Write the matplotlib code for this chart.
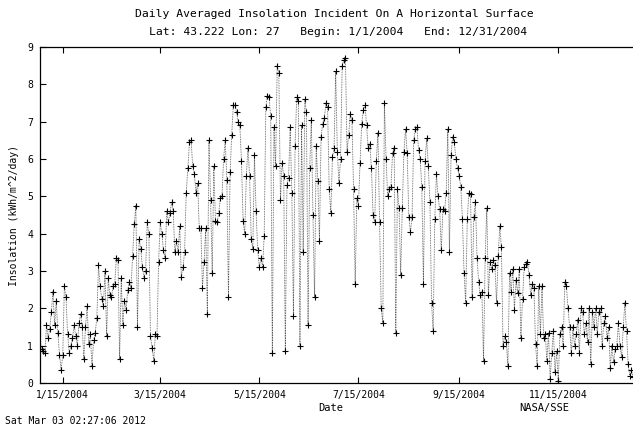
import numpy as np
import pandas as pd
import matplotlib
matplotlib.use("Agg")
import matplotlib.pyplot as plt

# daily averaged insolation, kWh/m^2/day, 1/1/2004 .. 12/31/2004
jan = [1.0, 0.9, 0.85, 0.8, 1.55, 1.2, 1.45, 1.9, 2.45, 1.55, 2.2, 1.35, 0.75, 0.35, 0.75, 2.6,
       2.3, 1.3, 0.8, 1.0, 1.2, 1.55, 1.25, 1.0, 1.6, 1.85, 1.5, 0.65, 1.5, 2.05, 1.05, 1.3, 0.45]
feb = [1.15, 1.35, 1.75, 3.15, 2.6, 2.25, 2.05, 3.0, 1.25, 2.8, 2.35, 2.3, 2.6, 2.65, 3.35, 3.3,
       0.65, 2.8, 1.55, 2.2, 1.95, 2.5, 2.7, 2.55, 3.4, 4.25, 4.75]
mar = [1.5, 3.85, 3.6, 3.1, 2.8, 3.0, 4.3, 4.0, 1.25, 0.95, 0.6, 1.3, 1.25, 3.25, 4.3, 4.0, 3.55,
       3.35, 4.6, 4.3, 4.55, 4.85, 4.6, 3.5, 3.8, 3.5, 4.2, 2.85, 3.1, 3.5, 5.1, 5.75, 6.45, 6.5,
       5.8, 5.6, 5.1, 5.35]
apr = [4.15, 4.15, 2.55, 3.25, 4.15, 1.85, 6.5, 4.9, 2.95, 5.8, 4.35, 4.3, 4.55, 4.95, 5.0, 6.0,
       6.5, 5.45, 2.3, 5.65, 6.65, 7.45, 7.45, 7.25, 7.0, 6.9, 5.95, 4.35, 4.0, 5.55, 6.3, 5.55,
       3.85, 3.6, 6.1, 4.6, 3.55, 3.1, 3.35, 3.1, 3.95, 7.4, 7.7, 7.65, 7.15, 0.8, 6.85, 5.8, 8.5,
       8.3, 4.9, 5.9, 5.55, 0.85, 5.3, 5.5, 6.85]
jun = [5.1, 1.8, 6.35, 7.65, 7.55, 1.0, 6.9, 3.5, 7.6, 7.25, 1.55, 5.75, 7.05, 4.5, 2.3, 6.35,
       5.4, 3.8, 6.6, 6.95, 7.1, 7.5, 7.4, 5.2, 4.55, 6.05, 6.3, 8.35]
jul = [6.2, 5.35, 6.0, 8.5, 8.65, 8.7, 6.2, 6.65, 7.2, 7.05, 5.2, 2.65, 4.95, 4.75, 5.9, 6.95,
       7.3, 7.45, 6.9, 6.3, 6.4, 5.75, 4.5, 4.3, 5.95, 6.7, 4.3, 2.0, 1.6, 7.5, 6.0, 5.0]
aug = [5.2, 5.25, 6.15, 6.3, 1.35, 5.2, 4.7, 2.9, 4.7, 6.2, 6.8, 6.15, 4.45, 4.05, 4.45, 6.5,
       6.8, 6.85, 6.25, 6.0, 5.25, 2.65, 5.95, 6.55, 5.8, 4.85, 2.15, 1.4, 4.4, 5.6, 5.0]
sep = [4.65, 3.55, 4.65, 4.6, 5.1, 6.8, 3.5, 6.1, 6.6, 6.45, 6.0, 5.75, 5.55, 5.25, 4.4, 2.95,
       2.15, 4.4, 5.1, 5.05, 2.3, 4.45, 4.85, 3.35, 2.7, 2.35, 2.45, 0.6]
octo = [3.35, 4.7, 2.35, 3.25, 3.05, 3.3, 3.15, 2.15, 3.4, 4.2, 3.65, 1.0, 1.25, 1.1, 0.45, 2.95,
        2.45, 3.05, 1.95, 2.75, 2.4, 3.05, 1.2, 2.25, 3.1, 3.2, 3.25, 2.9, 2.35, 2.65, 2.55, 1.05,
        0.45]
nov = [2.6, 1.3, 2.6, 1.2, 1.3, 0.6, 1.35, 0.1, 0.8, 1.4, 0.3, 0.85, 0.05, 1.3, 1.5, 1.0, 2.7,
       2.6, 2.0, 1.5, 0.8, 1.5, 1.0, 1.3, 1.7, 0.8, 2.0, 1.9, 1.3, 1.6, 1.1, 2.0, 0.5, 1.9, 1.5,
       2.0, 1.3, 1.9, 2.0, 1.0, 1.6, 1.8, 1.2, 1.5, 0.4, 1.0, 0.55, 0.9, 1.0, 1.6, 1.0, 0.7, 1.5,
       2.15, 1.4, 0.5, 0.2, 0.35, 0.15]

insolation = jan + feb + mar + apr + jun + jul + aug + sep + octo + nov
dates = pd.date_range("2004-01-01", "2004-12-31", freq="D")

tick_dates = pd.to_datetime(["2004-01-15", "2004-03-15", "2004-05-15",
                             "2004-07-15", "2004-09-15", "2004-11-15"])
tick_labels = ["1/15/2004", "3/15/2004", "5/15/2004", "7/15/2004", "9/15/2004", "11/15/2004"]

mono = "DejaVu Sans Mono"

fig = plt.figure(figsize=(6.33, 4.29), dpi=100)
ax = fig.add_axes([40 / 633, 1 - 383 / 429, 1 - 40 / 633, (383 - 47) / 429])

ax.plot(dates, insolation, color="#555555", lw=0.6, ls=(0, (1, 1)))
ax.plot(dates, insolation, ls="none", marker="+", ms=4.5, mew=0.8, color="black")

ax.set_xlim(dates[0], dates[-1])
ax.set_ylim(0, 9)
ax.set_xticks(tick_dates)
ax.set_xticklabels(tick_labels, fontfamily=mono, fontsize=7)
ax.set_yticks(range(0, 10))
ax.set_yticklabels([str(i) for i in range(10)], fontfamily=mono, fontsize=7)
ax.tick_params(axis="x", direction="in", length=4, width=0.8, top=True, pad=5)
ax.tick_params(axis="y", direction="in", length=4, width=0.8, right=False, pad=5)
ax.spines["right"].set_visible(False)
for side in ["left", "top", "bottom"]:
    ax.spines[side].set_linewidth(0.9)

ax.set_ylabel("Insolation (kWh/m^2/day)", fontfamily=mono, fontsize=7, labelpad=6)

fig.text(334 / 633, 1 - 14 / 429, "Daily Averaged Insolation Incident On A Horizontal Surface",
         ha="center", va="center", fontfamily=mono, fontsize=8.2)
fig.text(338 / 633, 1 - 32 / 429, "Lat: 43.222 Lon: 27   Begin: 1/1/2004   End: 12/31/2004",
         ha="center", va="center", fontfamily=mono, fontsize=8.2)
fig.text(331 / 633, 1 - 408 / 429, "Date", ha="center", va="center",
         fontfamily=mono, fontsize=7.5)
fig.text(544 / 633, 1 - 408 / 429, "NASA/SSE", ha="center", va="center",
         fontfamily=mono, fontsize=7.5)
fig.text(5 / 633, 1 - 421 / 429, "Sat Mar 03 02:27:06 2012", ha="left", va="center",
         fontfamily=mono, fontsize=7)

fig.savefig("out.png", dpi=100)
